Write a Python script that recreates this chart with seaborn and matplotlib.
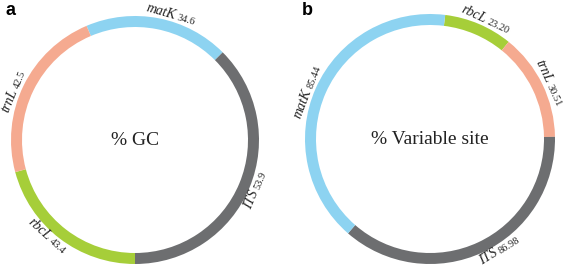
import numpy as np
import matplotlib
matplotlib.use("Agg")
import matplotlib.pyplot as plt
import seaborn as sns

# ---- data ----
gc_genes = ["matK", "ITS", "rbcL", "trnL"]
gc_values = [34.6, 53.9, 43.4, 42.5]
gc_arc = [68, 135, 75, 82]          # arc extent (deg)

var_genes = ["rbcL", "trnL", "ITS", "matK"]
var_values = [23.20, 30.51, 86.98, 85.44]
var_arc = [32, 50, 132, 146]        # arc extent (deg)

gene_colors = {"matK": "#8dd3f1", "ITS": "#6d6e70", "rbcL": "#a6ce39", "trnL": "#f5aa90"}

sns.set_theme(style="white")
plt.rcParams["font.family"] = ["Liberation Serif", "DejaVu Serif"]

W, H = 567, 267
fig = plt.figure(figsize=(W / 100, H / 100), dpi=100)
renderer = fig.canvas.get_renderer()


def text_width(s, **kw):
    t = fig.text(0, 0, s, **kw)
    w = t.get_window_extent(renderer=renderer).width
    t.remove()
    return w


def ring(cx, cy_top, R, ring_w, genes, values, arcs, start, center_text, fmt,
         letter, letter_x, nudges):
    half = R * 1.2
    cy = H - cy_top
    ax = fig.add_axes([(cx - half) / W, (cy - half) / H, 2 * half / W, 2 * half / H])
    L = half / R
    pal = sns.color_palette([gene_colors[g] for g in genes])
    wedges, _ = ax.pie(arcs, radius=1, startangle=start, counterclock=False,
                       colors=pal, wedgeprops=dict(width=ring_w / R, linewidth=0))
    ax.set_xlim(-L, L)
    ax.set_ylim(-L, L)
    ax.set_aspect("equal")
    ax.axis("off")
    ax.text(0, 0, center_text, ha="center", va="center", fontsize=14, color="#222222")

    gap = 3.0
    cap = 7.0
    gsize, nsize = 10, 7.5
    for wdg, g, v, dn in zip(wedges, genes, values, nudges):
        th = (wdg.theta1 + wdg.theta2) / 2.0 + dn
        th = (th + 180) % 360 - 180
        thr = np.deg2rad(th)
        if np.sin(thr) >= -0.05:
            rot = th - 90
            rb = 1 + gap / R
        else:
            rot = th + 90
            rb = 1 + (gap + cap) / R
        num = fmt.format(v)
        w1 = text_width(g, fontsize=gsize, fontstyle="italic")
        w2 = text_width(num, fontsize=nsize)
        sp = 2.5
        tot = w1 + sp + w2
        P = np.array([rb * np.cos(thr), rb * np.sin(thr)])
        u = np.array([np.cos(np.deg2rad(rot)), np.sin(np.deg2rad(rot))])
        p1 = P - u * (tot / 2 - w1 / 2) / R
        p2 = P + u * (tot / 2 - w2 / 2) / R
        ax.text(p1[0], p1[1], g, fontsize=gsize, fontstyle="italic", rotation=rot,
                rotation_mode="anchor", ha="center", va="baseline", color="#222222")
        ax.text(p2[0], p2[1], num, fontsize=nsize, rotation=rot,
                rotation_mode="anchor", ha="center", va="baseline", color="#222222")

    fig.text(letter_x / W, (H - 15) / H, letter, fontsize=13, fontweight="bold",
             family=["Liberation Sans", "DejaVu Sans"], ha="left", va="baseline", color="black")


ring(135, 140, 124, 11, gc_genes, gc_values, gc_arc, 113, "% GC", "{:.1f}", "a", 5,
     [-5, 0, -5, 4])
ring(430, 139, 125, 11, var_genes, var_values, var_arc, 83, "% Variable site", "{:.2f}", "b", 302,
     [-2, -1, 7, 3])

fig.savefig("out.png", dpi=100, facecolor="white")
